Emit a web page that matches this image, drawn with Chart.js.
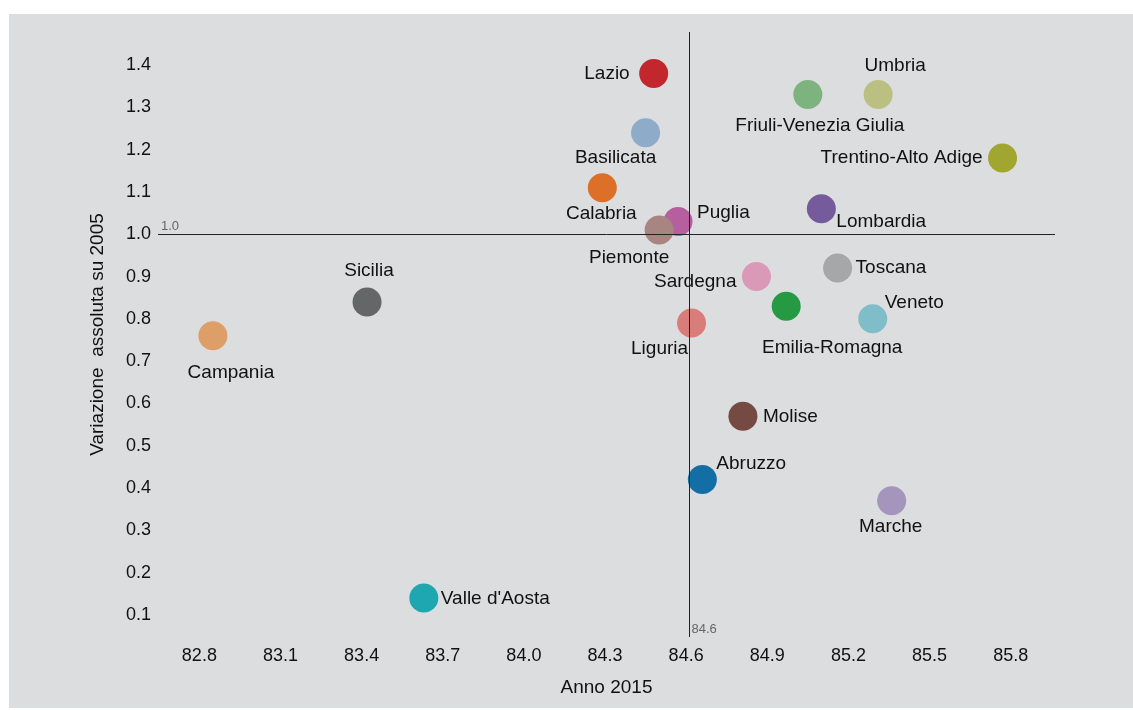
<!DOCTYPE html>
<html>
<head>
<meta charset="utf-8">
<script src="https://cdn.jsdelivr.net/npm/chart.js@4.4.1/dist/chart.umd.min.js"></script>
<style>
  html, body { margin: 0; padding: 0; background: #fff; overflow: hidden; }
  #wrap { position: absolute; left: 9px; top: 14px; width: 1124px; height: 694px; background: #dcdddf; }
</style>
</head>
<body>
<div id="wrap"><canvas id="scatterChart" width="1124" height="694"></canvas></div>
<script>
const regioni = ['Lazio', 'Basilicata', 'Calabria', 'Puglia', 'Piemonte', 'Friuli-Venezia Giulia', 'Umbria',
  'Trentino-Alto Adige', 'Lombardia', 'Toscana', 'Sardegna', 'Emilia-Romagna', 'Veneto', 'Liguria',
  'Sicilia', 'Campania', 'Molise', 'Abruzzo', 'Marche', "Valle d'Aosta"];
const anno2015 = [84.48, 84.45, 84.29, 84.57, 84.50, 85.05, 85.31, 85.77, 85.10, 85.16, 84.86, 84.97, 85.29, 84.62,
  83.42, 82.85, 84.81, 84.66, 85.36, 83.63];
const variazione = [1.38, 1.24, 1.11, 1.03, 1.01, 1.33, 1.33, 1.18, 1.06, 0.92, 0.90, 0.83, 0.80, 0.79,
  0.84, 0.76, 0.57, 0.42, 0.37, 0.14];
const colori = ['#c1272d', '#8eabc9', '#dc7029', '#b55f9f', '#a88580', '#7db37f', '#bcbf82', '#a0a630',
  '#765b9c', '#a5a7a9', '#da9ab7', '#259a43', '#7fbec8', '#d97d7b', '#646767', '#dd9e68', '#744a42',
  '#146ea6', '#a595bc', '#1ea7b1'];
const xTicks = [82.8, 83.1, 83.4, 83.7, 84.0, 84.3, 84.6, 84.9, 85.2, 85.5, 85.8];
const yTicks = [0.1, 0.2, 0.3, 0.4, 0.5, 0.6, 0.7, 0.8, 0.9, 1.0, 1.1, 1.2, 1.3, 1.4];
const mediaX = 84.61;
const mediaXLabel = '84.6';
const mediaY = 1.0;
const mediaYLabel = '1.0';

// where each name sits next to its dot: [textAlign, dx, dy]
const etichette = {
  'Lazio': ['right', -24, 0],
  'Basilicata': ['center', -30, 25],
  'Calabria': ['center', -1, 26],
  'Puglia': ['left', 19, -9],
  'Piemonte': ['center', -30, 28],
  'Friuli-Venezia Giulia': ['center', 12, 31],
  'Umbria': ['center', 17, -29],
  'Trentino-Alto Adige': ['right', -20, 0],
  'Lombardia': ['left', 15, 13],
  'Toscana': ['left', 18, 0],
  'Sardegna': ['right', -20, 5],
  'Emilia-Romagna': ['center', 46, 42],
  'Veneto': ['left', 12, -16],
  'Liguria': ['center', -32, 26],
  'Sicilia': ['center', 2, -31],
  'Campania': ['center', 18, 37],
  'Molise': ['left', 20, 1],
  'Abruzzo': ['left', 14, -16],
  'Marche': ['center', -1, 26],
  "Valle d'Aosta": ['left', 17, 1]
};

const font = 'Liberation Sans, Arial, sans-serif';

const overlay = {
  id: 'overlay',
  afterDatasetsDraw(chart) {
    const { ctx, chartArea, scales } = chart;
    const xm = Math.round(scales.x.getPixelForValue(mediaX)) + 0.5;
    const ym = Math.round(scales.y.getPixelForValue(mediaY)) + 0.5;
    ctx.save();
    ctx.strokeStyle = '#222';
    ctx.lineWidth = 1;
    ctx.beginPath();
    ctx.moveTo(chartArea.left, ym);
    ctx.lineTo(chartArea.right, ym);
    ctx.moveTo(xm, chartArea.top);
    ctx.lineTo(xm, chartArea.bottom);
    ctx.stroke();

    ctx.fillStyle = '#666';
    ctx.font = '13px ' + font;
    ctx.textBaseline = 'bottom';
    ctx.textAlign = 'left';
    ctx.fillText(mediaYLabel, chartArea.left + 3, ym - 2);
    ctx.fillText(mediaXLabel, xm + 2, chartArea.bottom - 1);

    ctx.fillStyle = '#111';
    ctx.font = '19px ' + font;
    ctx.textBaseline = 'middle';
    const meta = chart.getDatasetMeta(0);
    meta.data.forEach((pt, i) => {
      const e = etichette[regioni[i]];
      ctx.textAlign = e[0];
      ctx.fillText(regioni[i], pt.x + e[1], pt.y + e[2]);
    });
    ctx.restore();
  }
};

const ctx = document.getElementById('scatterChart').getContext('2d');
const scatterChart = new Chart(ctx, {
  type: 'scatter',
  data: {
    datasets: [{
      label: 'Regioni',
      data: anno2015.map((v, i) => ({ x: v, y: variazione[i] })),
      backgroundColor: colori,
      borderWidth: 0,
      pointRadius: 14.5,
      pointHoverRadius: 14.5
    }]
  },
  options: {
    responsive: false,
    animation: false,
    events: [],
    layout: { padding: { left: 0, right: 78, top: 18, bottom: 0 } },
    plugins: {
      legend: { display: false },
      tooltip: { enabled: false }
    },
    scales: {
      x: {
        type: 'linear',
        min: 82.647,
        max: 85.964,
        afterBuildTicks: (scale) => { scale.ticks = xTicks.map(v => ({ value: v })); },
        afterFit: (scale) => { scale.height = 71; },
        grid: { display: false, drawTicks: false },
        border: { display: false },
        ticks: {
          color: '#111',
          padding: 8,
          font: { family: font, size: 18 },
          callback: (v) => Number(v).toFixed(1)
        },
        title: {
          display: true,
          text: 'Anno 2015',
          color: '#111',
          font: { family: font, size: 19 },
          padding: { top: 0, bottom: 9 }
        }
      },
      y: {
        type: 'linear',
        min: 0.048,
        max: 1.478,
        afterBuildTicks: (scale) => { scale.ticks = yTicks.map(v => ({ value: v })); },
        afterFit: (scale) => { scale.width = 149; },
        grid: { display: false, drawTicks: false },
        border: { display: false },
        ticks: {
          color: '#111',
          padding: 7,
          font: { family: font, size: 18 },
          callback: (v) => Number(v).toFixed(1)
        },
        title: {
          display: true,
          text: 'Variazione  assoluta su 2005',
          color: '#111',
          font: { family: font, size: 19 },
          padding: { top: 77, bottom: 0 }
        }
      }
    }
  },
  plugins: [overlay]
});
</script>
</body>
</html>
